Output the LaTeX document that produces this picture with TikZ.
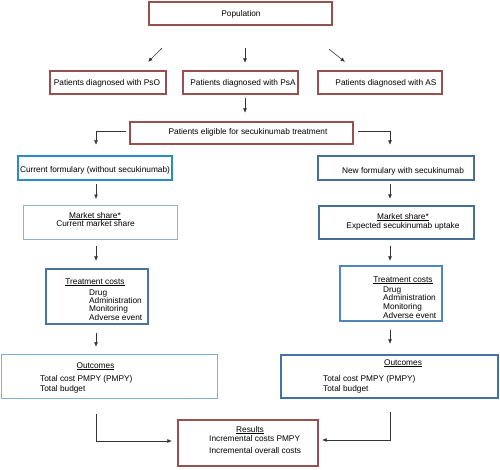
\documentclass[tikz,border=0pt]{standalone}
\usepackage{fontspec}
\setmainfont{Liberation Sans}
\usetikzlibrary{arrows.meta}

\definecolor{boxred}{RGB}{150,80,80}
\definecolor{curblue}{RGB}{40,140,200}
\definecolor{newblue}{RGB}{70,110,150}
\definecolor{paleblue}{RGB}{150,175,195}
\definecolor{steelblue}{RGB}{75,115,155}
\definecolor{midblue}{RGB}{80,135,185}
\definecolor{lightblue}{RGB}{130,175,210}
\definecolor{darkblue}{RGB}{65,115,165}

\tikzset{
  box/.style={draw=#1, rectangle, inner sep=0pt},
  thickbox/.style={line width=1.7pt},
  thinbox/.style={line width=1pt},
  txt/.style={inner sep=0pt, font=\fontsize{8.3}{8.3}\selectfont},
  arr/.style={draw=black!80, line width=0.6pt, -{Latex[length=4.5pt,width=3.8pt]}}
}

\begin{document}
\begin{tikzpicture}[x=1pt,y=-1pt]
        \useasboundingbox (0,0) rectangle (500,469);
        % boxes
        \node[box=boxred,thickbox,minimum width=183.5pt,minimum height=23.5pt] (pop) at (240.5,13.5) {};
        \node[box=boxred,thickbox,minimum width=116.5pt,minimum height=23.5pt] (pso) at (108,82.5) {};
        \node[box=boxred,thickbox,minimum width=115.5pt,minimum height=23.5pt] (psa) at (240.5,82.5) {};
        \node[box=boxred,thickbox,minimum width=124.5pt,minimum height=23.5pt] (as) at (380,82.5) {};
        \node[box=boxred,thickbox,minimum width=223.5pt,minimum height=22.5pt] (elig) at (241.5,133) {};
        \node[box=curblue,thickbox,minimum width=154.5pt,minimum height=24.5pt] (cur) at (95,168) {};
        \node[box=newblue,thickbox,minimum width=156.5pt,minimum height=24.5pt] (new) at (396,168) {};
        \node[box=paleblue,thinbox,minimum width=154pt,minimum height=34pt] (msl) at (100.5,222.5) {};
        \node[box=newblue,thickbox,minimum width=155.5pt,minimum height=33.5pt] (msr) at (396.5,222.5) {};
        \node[box=steelblue,thickbox,minimum width=102.5pt,minimum height=55.5pt] (tcl) at (97,296.5) {};
        \node[box=midblue,thickbox,minimum width=102.5pt,minimum height=55.5pt] (tcr) at (391,293.5) {};
        \node[box=lightblue,line width=1.2pt,minimum width=216pt,minimum height=44pt] (outl) at (109.5,376.5) {};
        \node[box=darkblue,thickbox,minimum width=217pt,minimum height=43.5pt] (outr) at (389.5,376.5) {};
        \node[box=boxred,thickbox,minimum width=140.5pt,minimum height=46.5pt] (res) at (248,443) {};

        % texts
        \node[txt,anchor=base] (pop-t) at (241,16) {Population};
        \node[txt,anchor=base] (pso-t) at (107,85) {Patients diagnosed with PsO};
        \node[txt,anchor=base] (psa-t) at (243,85) {Patients diagnosed with PsA};
        \node[txt,anchor=base] (as-t) at (386,85) {Patients diagnosed with AS};
        \node[txt,anchor=base] (elig-t) at (248,134.5) {Patients eligible for secukinumab treatment};
        \node[txt,anchor=base] (cur-t) at (95,172) {Current formulary (without secukinumab)};
        \node[txt,anchor=base] (new-t) at (403,173.5) {New formulary with secukinumab};
        \node[txt,anchor=base] (msl-h) at (95,218) {\underline{Market share*}};
        \node[txt,anchor=base] (msl-t) at (95.5,226) {Current market share};
        \node[txt,anchor=base] (msr-h) at (403,219) {\underline{Market share*}};
        \node[txt,anchor=base] (msr-t) at (403,228) {Expected secukinumab uptake};
        \node[txt,anchor=base] (tcl-h) at (95,284) {\underline{Treatment costs}};
        \node[txt,anchor=base] (tcr-h) at (403,282) {\underline{Treatment costs}};
        \foreach \t/\y in {Drug/295, Administration/303, Monitoring/311, Adverse event/320} {
          \node[txt,anchor=base west] (tcl-\y) at (89,\y) {\t};
        }
        \foreach \t/\y in {Drug/292, Administration/300.5, Monitoring/309.5, Adverse event/318} {
          \node[txt,anchor=base west] (tcr-\y) at (383,\y) {\t};
        }
        \node[txt,anchor=base] (outl-h) at (95.5,368) {\underline{Outcomes}};
        \node[txt,anchor=base] (outr-h) at (403,365) {\underline{Outcomes}};
        \foreach \x/\n in {40/outl, 323/outr} {
          \node[txt,anchor=base west] (\n-a) at (\x,381) {Total cost PMPY (PMPY)};
          \node[txt,anchor=base west] (\n-b) at (\x,391) {Total budget};
        }
        \node[txt,anchor=base] (res-h) at (250,432) {\underline{Results}};
        \node[txt,anchor=base west] (res-a) at (209,441) {Incremental costs PMPY};
        \node[txt,anchor=base west] (res-b) at (209,453) {Incremental overall costs};

        % connectors
        \coordinate (lx) at (96,0);
        \coordinate (rx) at (390,0);
        \draw[arr] ([xshift=-78.5pt,yshift=-22pt]pop.south) -- ([xshift=40pt,yshift=8pt]pso.north);
        \draw[arr] ([xshift=4.5pt,yshift=-22pt]pop.south) -- ([xshift=4.5pt,yshift=7pt]psa.north);
        \draw[arr] ([xshift=88.5pt,yshift=-23pt]pop.south) -- ([xshift=-35pt,yshift=8pt]as.north);
        \draw[arr] ([xshift=4.5pt,yshift=-3pt]psa.south) -- ([xshift=3.5pt,yshift=8pt]elig.north);
        \draw[arr] ([xshift=-3pt,yshift=2pt]elig.west) -| ([yshift=10pt]cur.north -| lx);
        \draw[arr] ([xshift=4pt,yshift=2pt]elig.east) -| ([yshift=10pt]new.north -| rx);
        \draw[arr] ([yshift=-3pt]cur.south -| lx) -- ([yshift=6pt]msl.north -| lx);
        \draw[arr] ([yshift=-6pt]msl.south -| lx) -- ([yshift=7pt]tcl.north -| lx);
        \draw[arr] ([yshift=-8pt]tcl.south -| lx) -- ([yshift=7pt]outl.north -| lx);
        \draw[arr] ([yshift=-3pt]new.south -| rx) -- ([yshift=6pt]msr.north -| rx);
        \draw[arr] ([yshift=-6pt]msr.south -| rx) -- ([yshift=4pt]tcr.north -| rx);
        \draw[arr] ([yshift=-8pt]tcr.south -| rx) -- ([yshift=10pt]outr.north -| rx);
        \draw[arr] ([yshift=-15pt]outl.south -| lx) |- ([xshift=-5pt,yshift=2pt]res.west);
        \draw[arr] ([yshift=-13pt]outr.south -| rx) |- ([xshift=3pt,yshift=3pt]res.east);
        \end{tikzpicture}
\end{document}
